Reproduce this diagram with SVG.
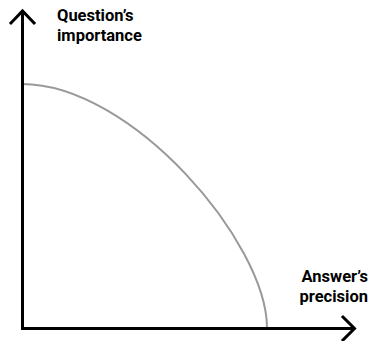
<svg xmlns="http://www.w3.org/2000/svg" width="373" height="341" viewBox="0 0 373 341">
<style>
.axis{fill:none;stroke:#000;stroke-width:3;stroke-linecap:square}
.lbl{font-family:Roboto,"Liberation Sans",sans-serif;font-weight:bold;font-size:16.5px;fill:#000}
</style>
<rect width="373" height="341" fill="#fff"/>
<g id="curve">
<path d="M22,84 C132,84 267,243 267,328" fill="none" stroke="#999" stroke-width="2"/>
</g>
<g id="connectors">
<path class="axis" d="M22.5,12 V328.5 H353"/>
<path class="axis" d="M11,23 L22.5,11 L34,23"/>
<path class="axis" d="M343,317 L354.5,328.5 L343,340"/>
</g>
<g id="y-label">
<text class="lbl" x="57" y="21">Question’s</text>
<text class="lbl" x="57" y="41">importance</text>
</g>
<g id="x-label">
<text class="lbl" x="301.5" y="282">Answer’s</text>
<text class="lbl" x="299.5" y="302">precision</text>
</g>
</svg>
